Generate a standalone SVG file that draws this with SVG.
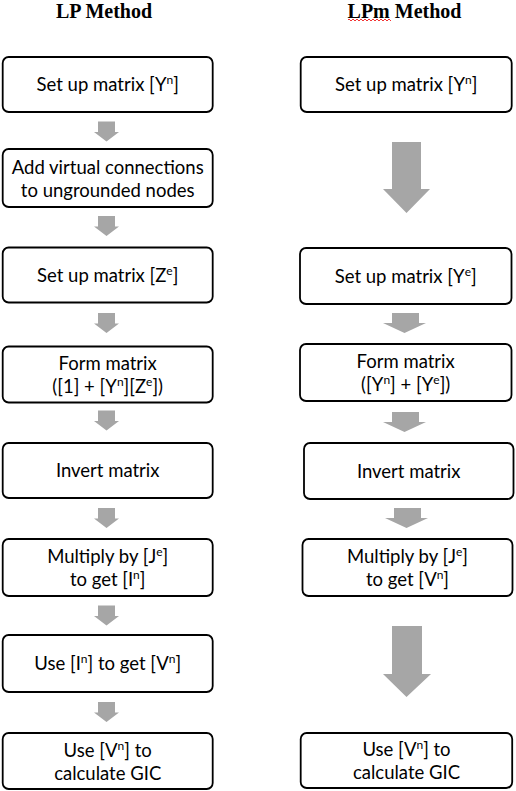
<svg xmlns="http://www.w3.org/2000/svg" width="516" height="791" viewBox="0 0 516 791">
<style>
.hdr{font-family:"Liberation Serif","Times New Roman",serif;font-weight:bold;font-size:20px;text-anchor:middle;fill:#000}
.box{fill:#fff;stroke:#000;stroke-width:1.8}
.t{font-family:Lato,"Open Sans",sans-serif;font-size:18.5px;text-anchor:middle;fill:#000}
.s{font-size:12px}
.arr{fill:#a6a6a6}
</style>
<rect width="516" height="791" fill="#fff"/>
<text class="hdr" x="104" y="18">LP Method</text>
<text class="hdr" x="404.5" y="18">LPm Method</text>
<polyline points="348,20 349,19 350,20 351,21 352,20 353,19 354,20 355,21 356,20 357,19 358,20 359,21 360,20 361,19 362,20 363,21 364,20 365,19 366,20 367,21 368,20 369,19 370,20 371,21 372,20 373,19 374,20 375,21 376,20 377,19 378,20 379,21 380,20 381,19 382,20 383,21 384,20 385,19 386,20 387,21 388,20 389,19 390,20 391,21" fill="none" stroke="#e00" stroke-width="0.8"/>

<g id="connectors">
<path class="arr" d="M98,121.5H115V132H119L106.5,141.5L94,132H98Z"/>
<path class="arr" d="M98,216H115V226.5H119L106.5,236L94,226.5H98Z"/>
<path class="arr" d="M98,313H115V323.5H119L106.5,333L94,323.5H98Z"/>
<path class="arr" d="M98,410.5H115V421H119L106.5,430.5L94,421H98Z"/>
<path class="arr" d="M98,508H115V518.5H119L106.5,528L94,518.5H98Z"/>
<path class="arr" d="M98,605.5H115V616H119L106.5,625.5L94,616H98Z"/>
<path class="arr" d="M98,702H115V712.5H119L106.5,722L94,712.5H98Z"/>

<path class="arr" d="M392,142H421V189H430L406.5,213L383,189H392Z"/>
<path class="arr" d="M392,313H419V323H426L404.5,333L383,323H392Z"/>
<path class="arr" d="M392,412H419V422H426L404.5,432L383,422H392Z"/>
<path class="arr" d="M394,508H421V518H428L406.5,528L385,518H394Z"/>
<path class="arr" d="M392,626H422V674H431L406.5,697L383,674H392Z"/>
</g>

<g id="lp1"><rect class="box" x="2.7" y="57" width="210" height="55" rx="6"/>
<text class="t" x="107.7" y="91">Set up matrix [Y<tspan class="s" dy="-7">n</tspan><tspan dy="7">]</tspan></text></g>
<g id="lp2"><rect class="box" x="2.7" y="149" width="210" height="58" rx="6"/>
<text class="t" x="107.7" y="173.5">Add virtual connections</text>
<text class="t" x="107.7" y="196.5">to ungrounded nodes</text></g>
<g id="lp3"><rect class="box" x="2.7" y="247.5" width="210" height="55" rx="6"/>
<text class="t" x="107.7" y="281.5">Set up matrix [Z<tspan class="s" dy="-7">e</tspan><tspan dy="7">]</tspan></text></g>
<g id="lp4"><rect class="box" x="2.7" y="346.5" width="210" height="56" rx="6"/>
<text class="t" x="107.7" y="370">Form matrix</text>
<text class="t" x="107.7" y="393">([1] + [Y<tspan class="s" dy="-7">n</tspan><tspan dy="7">][Z</tspan><tspan class="s" dy="-7">e</tspan><tspan dy="7">])</tspan></text></g>
<g id="lp5"><rect class="box" x="2.7" y="443" width="210" height="55" rx="6"/>
<text class="t" x="107.7" y="477">Invert matrix</text></g>
<g id="lp6"><rect class="box" x="2.7" y="539" width="210" height="57" rx="6"/>
<text class="t" x="107.7" y="563">Multiply by [J<tspan class="s" dy="-7">e</tspan><tspan dy="7">]</tspan></text>
<text class="t" x="107.7" y="586">to get [I<tspan class="s" dy="-7">n</tspan><tspan dy="7">]</tspan></text></g>
<g id="lp7"><rect class="box" x="2.7" y="635" width="210" height="57" rx="6"/>
<text class="t" x="107.7" y="670">Use [I<tspan class="s" dy="-7">n</tspan><tspan dy="7">] to get [V</tspan><tspan class="s" dy="-7">n</tspan><tspan dy="7">]</tspan></text></g>
<g id="lp8"><rect class="box" x="2.7" y="733" width="210" height="56" rx="6"/>
<text class="t" x="107.7" y="756.5">Use [V<tspan class="s" dy="-7">n</tspan><tspan dy="7">] to</tspan></text>
<text class="t" x="107.7" y="779.5">calculate GIC</text></g>

<g id="lpm1"><rect class="box" x="300.7" y="57" width="211" height="55" rx="6"/>
<text class="t" x="406.2" y="91">Set up matrix [Y<tspan class="s" dy="-7">n</tspan><tspan dy="7">]</tspan></text></g>
<g id="lpm2"><rect class="box" x="300" y="248" width="211.5" height="56" rx="6"/>
<text class="t" x="405.7" y="282.5">Set up matrix [Y<tspan class="s" dy="-7">e</tspan><tspan dy="7">]</tspan></text></g>
<g id="lpm3"><rect class="box" x="300" y="344" width="211.5" height="57" rx="6"/>
<text class="t" x="405.7" y="368">Form matrix</text>
<text class="t" x="405.7" y="391">([Y<tspan class="s" dy="-7">n</tspan><tspan dy="7">] + [Y</tspan><tspan class="s" dy="-7">e</tspan><tspan dy="7">])</tspan></text></g>
<g id="lpm4"><rect class="box" x="304" y="443" width="209.5" height="56" rx="6"/>
<text class="t" x="408.7" y="477.5">Invert matrix</text></g>
<g id="lpm5"><rect class="box" x="302.5" y="539" width="210" height="57" rx="6"/>
<text class="t" x="407.5" y="563">Multiply by [J<tspan class="s" dy="-7">e</tspan><tspan dy="7">]</tspan></text>
<text class="t" x="407.5" y="586">to get [V<tspan class="s" dy="-7">n</tspan><tspan dy="7">]</tspan></text></g>
<g id="lpm6"><rect class="box" x="300.7" y="733" width="211.5" height="55" rx="6"/>
<text class="t" x="406.5" y="756">Use [V<tspan class="s" dy="-7">n</tspan><tspan dy="7">] to</tspan></text>
<text class="t" x="406.5" y="779">calculate GIC</text></g>
</svg>
